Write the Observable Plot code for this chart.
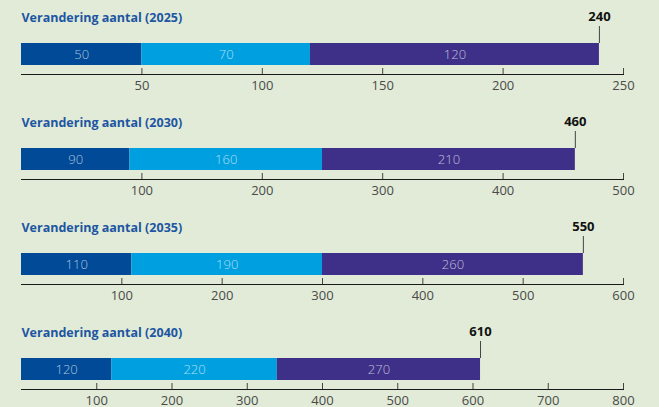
<!DOCTYPE html>
<html>
<head>
<meta charset="utf-8">
<script src="https://cdn.jsdelivr.net/npm/d3@7"></script>
<script src="https://cdn.jsdelivr.net/npm/@observablehq/plot@0.6"></script>
<style>
  html, body { margin: 0; padding: 0; background: #e1ebd7; }
  #chart { width: 659px; height: 407px; overflow: hidden; }
  #chart svg { display: block; }
</style>
</head>
<body>
<div id="chart"></div>
<script>
const years = ["2025", "2030", "2035", "2040"];
const titles = years.map(y => `Verandering aantal (${y})`);
const segmentKeys = ["deel1", "deel2", "deel3"];
const segmentColors = ["#004a97", "#009fe0", "#3e3088"];
const seriesA = [50, 90, 110, 120];
const seriesB = [70, 160, 190, 220];
const seriesC = [120, 210, 260, 270];
const totals = [240, 460, 550, 610];
const axisMax = [250, 500, 600, 800];
const tickValues = [
  [50, 100, 150, 200, 250],
  [100, 200, 300, 400, 500],
  [100, 200, 300, 400, 500, 600],
  [100, 200, 300, 400, 500, 600, 700, 800]
];

const font = "'Open Sans', 'Noto Sans', sans-serif";
const chart = document.getElementById("chart");

years.forEach((year, i) => {
  const data = [
    {key: segmentKeys[0], value: seriesA[i]},
    {key: segmentKeys[1], value: seriesB[i]},
    {key: segmentKeys[2], value: seriesC[i]}
  ];
  const end = d3.sum(data, d => d.value);
  const svg = Plot.plot({
    width: 659,
    height: 105,
    marginLeft: 21,
    marginRight: 36,
    marginTop: 43,
    marginBottom: 40,
    x: {domain: [0, axisMax[i]], label: null},
    color: {domain: segmentKeys, range: segmentColors},
    style: {background: "transparent", fontFamily: font, overflow: "visible"},
    marks: [
      Plot.barX(data, {x: "value", fill: "key"}),
      Plot.text(data, Plot.stackX({x: "value", text: "value", fill: "white", fillOpacity: 0.68, fontSize: 13, fontWeight: 300})),
      Plot.frame({anchor: "bottom", dy: 9, stroke: "#1a1a1a"}),
      Plot.axisX({ticks: tickValues[i], tickSize: 6, dy: 3, stroke: "#444", fill: "none", label: null}),
      Plot.axisX({ticks: tickValues[i], tickSize: 0, tickPadding: 15, fill: "#4a4a4a", fontSize: 13, fontWeight: 400, label: null}),
      Plot.ruleX([end], {insetTop: -17, insetBottom: 22, stroke: "#444"}),
      Plot.text([{x: end, t: totals[i]}], {x: "x", text: "t", frameAnchor: "top", dy: -32, fontWeight: "bold", fontSize: 13, fill: "#111"}),
      Plot.text([titles[i]], {frameAnchor: "top-left", dy: -30, textAnchor: "start", fontWeight: "bold", fontSize: 12.5, fill: "#1d56a2"})
    ]
  });
  chart.appendChild(svg);
});
</script>
</body>
</html>
